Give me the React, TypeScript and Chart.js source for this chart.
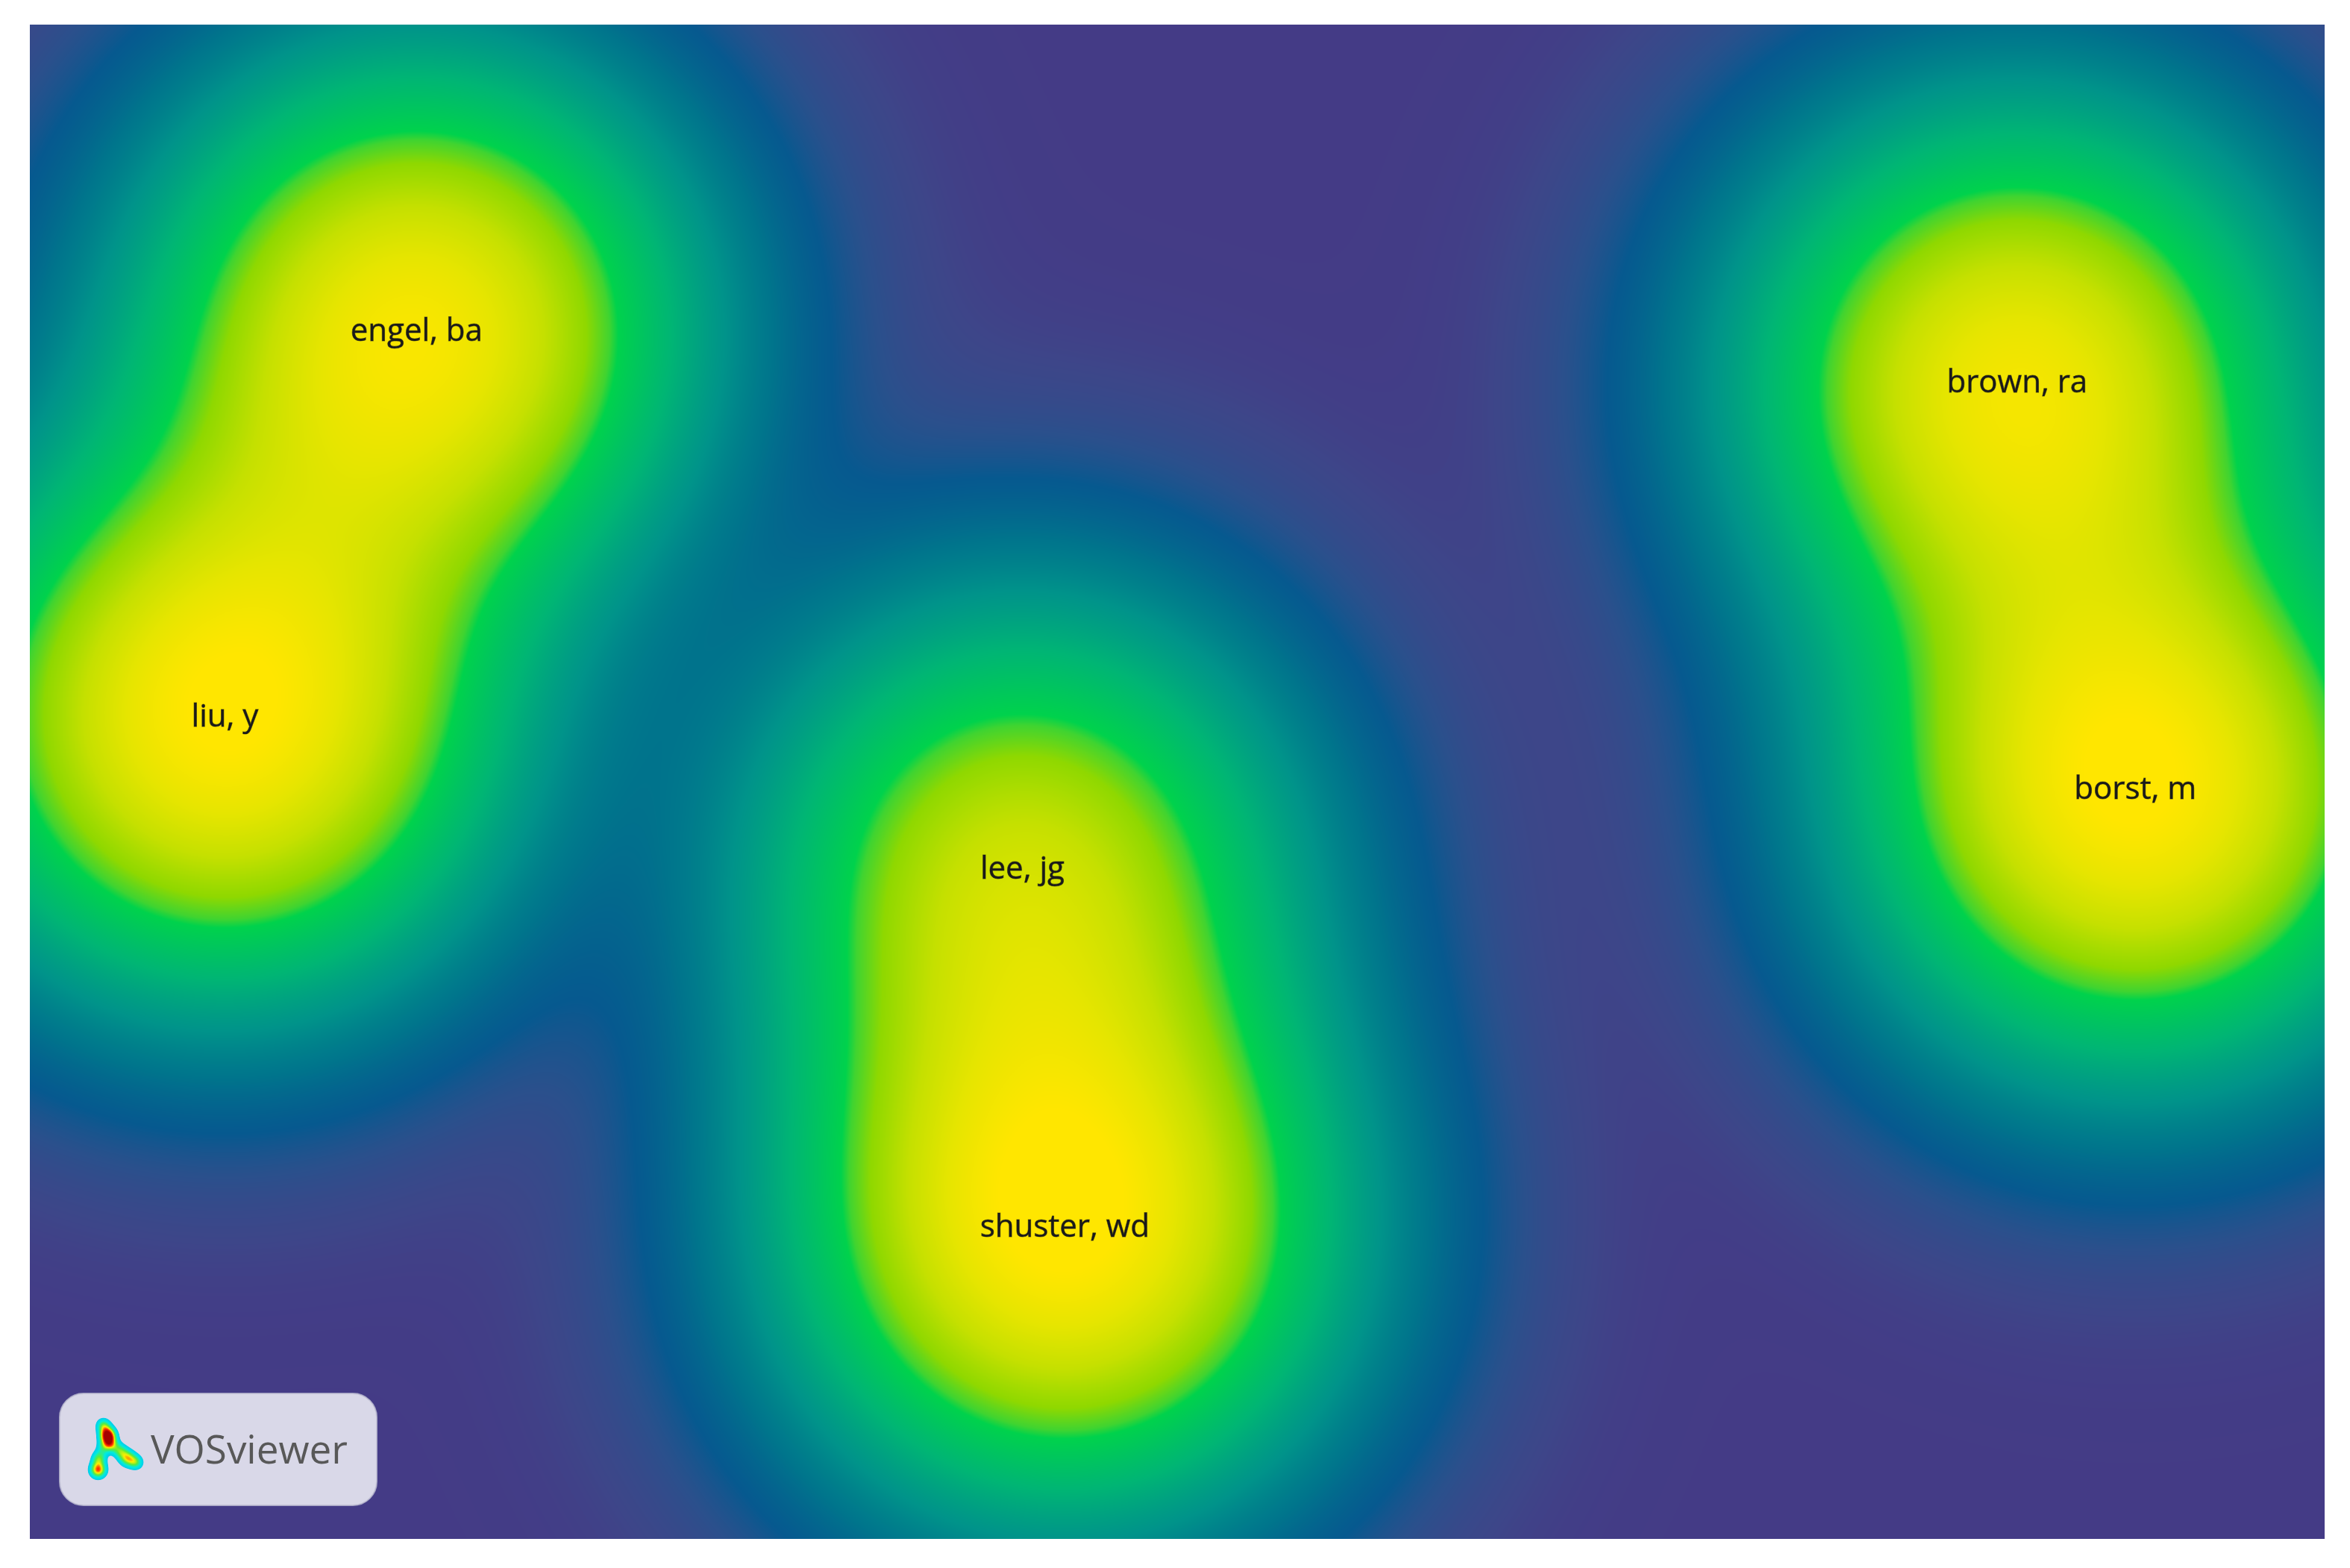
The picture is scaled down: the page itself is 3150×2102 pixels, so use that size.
import React, { useEffect, useRef } from "react";
import { Chart, registerables } from "chart.js";

Chart.register(...registerables);

// ---- Data (VOSviewer map coordinates) ----
const itemLabels: string[] = ["engel, ba", "liu, y", "lee, jg", "shuster, wd", "brown, ra", "borst, m"];
const itemX: number[] = [-0.663, -0.83, -0.135, -0.098, 0.732, 0.835];
const itemY: number[] = [0.392, 0.056, -0.077, -0.389, 0.347, -0.007];
const itemWeight: number[] = [0.93, 1.0, 0.68, 1.0, 0.9, 1.0];
const kernelWidth = 0.143;

// density -> colour
const stopValues: number[] = [0.0, 0.006, 0.02, 0.04, 0.09, 0.16, 0.28, 0.44, 0.47, 0.55, 0.7, 0.85, 1.0];
const stopColors: string[] = [
  "#443b86", "#3d4689", "#2a508c", "#06598f", "#00758c", "#00938a",
  "#00b574", "#00d24c", "#40d430", "#8fd800", "#c5e000", "#e6e500", "#ffe600",
];

const X_MIN = -1, X_MAX = 1, Y_MIN = -0.66, Y_MAX = 0.66;

function hexToRgb(h: string): number[] {
  const v = parseInt(h.slice(1), 16);
  return [(v >> 16) & 255, (v >> 8) & 255, v & 255];
}

function buildLut(size: number, maxVal: number): Uint8ClampedArray {
  const lut = new Uint8ClampedArray(size * 3);
  const cols = stopColors.map(hexToRgb);
  for (let i = 0; i < size; i++) {
    const d = (i / (size - 1)) * maxVal;
    let k = 0;
    while (k < stopValues.length - 2 && d > stopValues[k + 1]) k++;
    const a = stopValues[k], b = stopValues[k + 1];
    let t = (d - a) / (b - a);
    t = Math.max(0, Math.min(1, t));
    for (let c = 0; c < 3; c++) lut[i * 3 + c] = cols[k][c] + (cols[k + 1][c] - cols[k][c]) * t;
  }
  return lut;
}

const densityPlugin = {
  id: "densityMap",
  beforeDatasetsDraw(chart: any) {
    const { ctx, chartArea, scales } = chart;
    const xs = scales.x, ys = scales.y;
    const x0 = Math.round(chartArea.left), y0 = Math.round(chartArea.top);
    const w = Math.round(chartArea.right) - x0, h = Math.round(chartArea.bottom) - y0;
    const img = ctx.createImageData(w, h);
    const n = itemX.length;
    const s2 = 2 * kernelWidth * kernelWidth;
    const gx: Float32Array[] = [], gy: Float32Array[] = [];
    for (let i = 0; i < n; i++) {
      const ax = new Float32Array(w);
      for (let c = 0; c < w; c++) {
        const dx = xs.getValueForPixel(x0 + c + 0.5) - itemX[i];
        ax[c] = Math.exp(-(dx * dx) / s2);
      }
      const ay = new Float32Array(h);
      for (let r = 0; r < h; r++) {
        const dy = ys.getValueForPixel(y0 + r + 0.5) - itemY[i];
        ay[r] = itemWeight[i] * Math.exp(-(dy * dy) / s2);
      }
      gx.push(ax); gy.push(ay);
    }
    const LUT_SIZE = 8192, LUT_MAX = 1.2;
    const lut = buildLut(LUT_SIZE, LUT_MAX);
    const data = img.data;
    let p = 0;
    for (let r = 0; r < h; r++) {
      for (let c = 0; c < w; c++) {
        let d = 0;
        for (let i = 0; i < n; i++) d += gx[i][c] * gy[i][r];
        let idx = Math.round((d / LUT_MAX) * (LUT_SIZE - 1));
        if (idx > LUT_SIZE - 1) idx = LUT_SIZE - 1;
        data[p] = lut[idx * 3];
        data[p + 1] = lut[idx * 3 + 1];
        data[p + 2] = lut[idx * 3 + 2];
        data[p + 3] = 255;
        p += 4;
      }
    }
    ctx.putImageData(img, x0, y0);
  },
  afterDatasetsDraw(chart: any) {
    const { ctx } = chart;
    const meta = chart.getDatasetMeta(0);
    ctx.save();
    ctx.font = '42px "Open Sans"';
    ctx.fillStyle = "#1a1a1a";
    ctx.strokeStyle = "rgba(26,26,26,0.55)";
    ctx.lineWidth = 0.9;
    ctx.textAlign = "center";
    ctx.textBaseline = "middle";
    meta.data.forEach((pt: any, i: number) => {
      ctx.fillText(itemLabels[i], pt.x, pt.y);
      ctx.strokeText(itemLabels[i], pt.x, pt.y);
    });
    ctx.restore();
  },
  afterDraw(chart: any) {
    const { ctx, chartArea } = chart;
    // VOSviewer logo box
    const bx = chartArea.left + 40, by = chartArea.bottom - 195, bw = 425, bh = 150, rad = 32;
    ctx.save();
    ctx.beginPath();
    ctx.moveTo(bx + rad, by);
    ctx.arcTo(bx + bw, by, bx + bw, by + bh, rad);
    ctx.arcTo(bx + bw, by + bh, bx, by + bh, rad);
    ctx.arcTo(bx, by + bh, bx, by, rad);
    ctx.arcTo(bx, by, bx + bw, by, rad);
    ctx.closePath();
    ctx.fillStyle = "#d9d8e8";
    ctx.fill();
    ctx.strokeStyle = "rgba(190,190,210,0.8)";
    ctx.lineWidth = 2;
    ctx.stroke();

    // tiny density icon
    const iw = 100, ih = 110;
    const off = document.createElement("canvas");
    off.width = iw; off.height = ih;
    const octx = off.getContext("2d") as CanvasRenderingContext2D;
    const im = octx.createImageData(iw, ih);
    const blobs = [
      [30, 20, 0.55, 7], [36, 34, 1.2, 8], [40, 46, 0.55, 7], [30, 50, 0.35, 7],
      [24, 64, 0.55, 7], [23, 80, 0.95, 8],
      [52, 54, 0.5, 7], [62, 64, 0.75, 8], [74, 70, 0.55, 7],
    ];
    const jet = [
      [0.0, [0, 200, 235]], [0.25, [0, 235, 225]], [0.5, [90, 235, 60]],
      [0.68, [250, 240, 0]], [0.84, [255, 40, 0]], [1.0, [165, 0, 0]],
    ] as [number, number[]][];
    for (let yy = 0; yy < ih; yy++) {
      for (let xx = 0; xx < iw; xx++) {
        let d = 0;
        for (const b of blobs) {
          const dx = xx - b[0], dy = yy - b[1];
          d += b[2] * Math.exp(-(dx * dx + dy * dy) / (2 * b[3] * b[3]));
        }
        const q = (yy * iw + xx) * 4;
        if (d < 0.2) { im.data[q + 3] = 0; continue; }
        const v = Math.min(1, (d - 0.2) / 0.95);
        let k = 0;
        while (k < jet.length - 2 && v > jet[k + 1][0]) k++;
        const t = Math.max(0, Math.min(1, (v - jet[k][0]) / (jet[k + 1][0] - jet[k][0])));
        for (let c = 0; c < 3; c++) im.data[q + c] = jet[k][1][c] + (jet[k + 1][1][c] - jet[k][1][c]) * t;
        im.data[q + 3] = d < 0.24 ? Math.round(((d - 0.2) / 0.04) * 255) : 255;
      }
    }
    octx.putImageData(im, 0, 0);
    ctx.drawImage(off, bx + 28, by + 22);

    ctx.font = '53px "Open Sans"';
    ctx.fillStyle = "#585858";
    ctx.textAlign = "left";
    ctx.textBaseline = "alphabetic";
    ctx.fillText("VOSviewer", bx + 122, by + 94);
    ctx.restore();
  },
};

export default function App() {
  const ref = useRef<HTMLCanvasElement | null>(null);
  useEffect(() => {
    if (!ref.current) return;
    const chart = new Chart(ref.current, {
      type: "scatter",
      data: {
        datasets: [
          {
            label: "items",
            data: itemX.map((x, i) => ({ x, y: itemY[i] })),
            pointRadius: 0,
            pointHoverRadius: 0,
          },
        ],
      },
      options: {
        responsive: false,
        animation: false,
        devicePixelRatio: 1,
        layout: { padding: { left: 40, top: 33, right: 34, bottom: 39 } },
        scales: {
          x: { type: "linear", min: X_MIN, max: X_MAX, display: false },
          y: { type: "linear", min: Y_MIN, max: Y_MAX, display: false },
        },
        plugins: { legend: { display: false }, tooltip: { enabled: false } },
      },
      plugins: [densityPlugin],
    });
    return () => chart.destroy();
  }, []);
  return (
    <div style={{ position: "absolute", left: 0, top: 0, width: 3150, height: 2102, background: "#ffffff" }}>
      <canvas ref={ref} width={3150} height={2102} style={{ width: 3150, height: 2102 }} />
    </div>
  );
}
